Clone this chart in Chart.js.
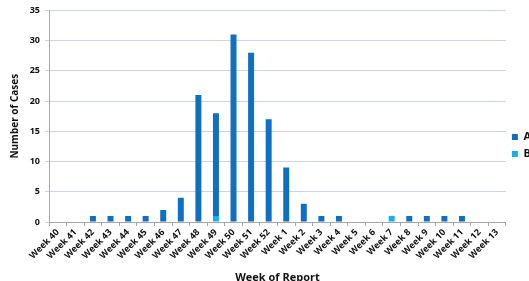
<!DOCTYPE html>
<html>
<head>
<meta charset="utf-8">
<script src="https://cdn.jsdelivr.net/npm/chart.js@4.4.0/dist/chart.umd.min.js"></script>
<style>
html, body { margin: 0; padding: 0; background: #fff; overflow: hidden; }
#wrap { position: relative; width: 529px; height: 281px; overflow: hidden; }
canvas { position: absolute; left: 0; top: 0; }
</style>
</head>
<body>
<div id="wrap"><canvas id="chart0" width="541" height="281"></canvas></div>
<script>
const weeks = ['Week 40', 'Week 41', 'Week 42', 'Week 43', 'Week 44', 'Week 45', 'Week 46',
    'Week 47', 'Week 48', 'Week 49', 'Week 50', 'Week 51', 'Week 52', 'Week 1', 'Week 2',
    'Week 3', 'Week 4', 'Week 5', 'Week 6', 'Week 7', 'Week 8', 'Week 9', 'Week 10',
    'Week 11', 'Week 12', 'Week 13'];
const casesA = [0, 0, 1, 1, 1, 1, 2, 4, 21, 17, 31, 28, 17, 9, 3, 1, 1, 0, 0, 0, 1, 1, 1, 1, 0, 0];
const casesB = [0, 0, 0, 0, 0, 0, 0, 0, 0, 1, 0, 0, 0, 0, 0, 0, 0, 0, 0, 1, 0, 0, 0, 0, 0, 0];
const yMax = 35;
const yStep = 5;

const fontFamily = "'Open Sans', Lato, sans-serif";
const gridColor = '#c9d5e4';

const ctx = document.getElementById('chart0').getContext('2d');
const chart = new Chart(ctx, {
    type: 'bar',
    data: {
        labels: weeks,
        datasets: [
            {
                label: 'A',
                data: casesA,
                backgroundColor: '#0f6fc0',
                borderWidth: 0,
                order: 2,
            },
            {
                label: 'B',
                data: casesB,
                backgroundColor: '#12b2ee',
                borderWidth: 0,
                order: 1,
            },
        ],
    },
    options: {
        responsive: false,
        animation: false,
        categoryPercentage: 1.0,
        barPercentage: 0.34,
        layout: {
            padding: { top: 10, left: 4, right: 0, bottom: 0 },
        },
        scales: {
            x: {
                stacked: true,
                grid: {
                    display: true,
                    drawOnChartArea: false,
                    drawTicks: true,
                    tickLength: 4,
                    color: '#a6a6a6',
                },
                border: { color: '#a6a6a6' },
                ticks: {
                    minRotation: 45,
                    maxRotation: 45,
                    autoSkip: false,
                    padding: 1,
                    color: '#111',
                    font: { family: fontFamily, size: 9, weight: 'bold' },
                },
                title: {
                    display: true,
                    text: 'Week of Report',
                    color: '#111',
                    font: { family: fontFamily, size: 11, weight: 'bold' },
                    padding: { top: 0, bottom: -3 },
                },
                // plot bottom sits at y=222, the title runs off the bottom edge
                afterFit: (scale) => { scale.height = 59; },
            },
            y: {
                stacked: true,
                min: 0,
                max: yMax,
                ticks: {
                    stepSize: yStep,
                    padding: 5,
                    color: '#111',
                    font: { family: fontFamily, size: 9, weight: 'bold' },
                },
                grid: {
                    color: gridColor,
                    lineWidth: 1,
                    tickLength: 4,
                },
                border: { color: '#a6a6a6' },
                title: {
                    display: true,
                    text: 'Number of Cases',
                    color: '#111',
                    font: { family: fontFamily, size: 10, weight: 'bold' },
                    padding: { top: 5, bottom: 0 },
                },
                afterFit: (scale) => { scale.width = 45; },
            },
        },
        plugins: {
            legend: {
                position: 'right',
                labels: {
                    boxWidth: 6,
                    boxHeight: 6,
                    padding: 6,
                    color: '#111',
                    font: { family: fontFamily, size: 11, weight: 'bold' },
                    sort: (a, b) => a.datasetIndex - b.datasetIndex,
                },
            },
            tooltip: { enabled: false },
        },
    },
});
</script>
</body>
</html>
